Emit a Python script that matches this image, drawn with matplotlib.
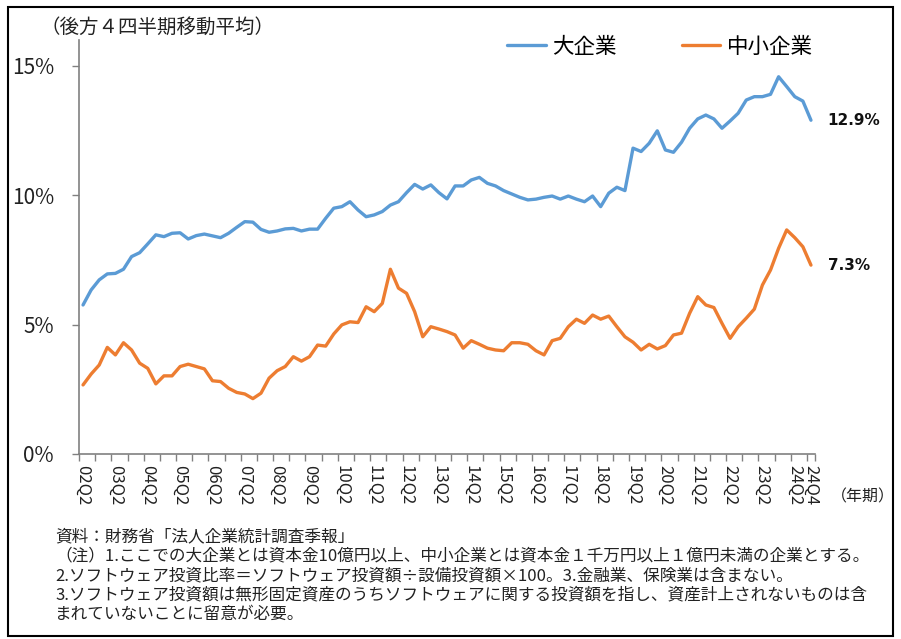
import matplotlib
matplotlib.use('agg')
from matplotlib import pyplot as plt
from matplotlib.patches import Rectangle

plt.rcParams['font.family'] = ['Noto Sans CJK JP', 'DejaVu Sans']

# 四半期 (2002Q2 ～ 2024Q4)
quarters = []
for _year in range(2002, 2025):
    for _q in range(1, 5):
        if _year == 2002 and _q < 2:
            continue
        quarters.append('%02dQ%d' % (_year % 100, _q))

# ソフトウェア投資比率 (%)
large = [5.76, 6.34, 6.73, 6.96, 6.98, 7.14, 7.63, 7.78, 8.12, 8.47,
         8.40, 8.53, 8.55, 8.31, 8.44, 8.50, 8.43, 8.36, 8.53, 8.76,
         8.98, 8.96, 8.68, 8.57, 8.62, 8.70, 8.72, 8.62, 8.69, 8.69,
         9.11, 9.50, 9.56, 9.75, 9.43, 9.17, 9.24, 9.37, 9.62, 9.75,
         10.10, 10.42, 10.24, 10.40, 10.10, 9.86, 10.36, 10.36, 10.59, 10.69,
         10.46, 10.36, 10.18, 10.05, 9.92, 9.82, 9.85, 9.92, 9.97, 9.85,
         9.97, 9.85, 9.75, 9.97, 9.56, 10.08, 10.31, 10.18, 11.82, 11.69,
         12.01, 12.49, 11.75, 11.66, 12.05, 12.59, 12.95, 13.10, 12.95, 12.59,
         12.87, 13.17, 13.68, 13.81, 13.81, 13.90, 14.58, 14.20, 13.81, 13.64,
         12.9]
small = [2.67, 3.09, 3.44, 4.12, 3.83, 4.30, 4.02, 3.51, 3.31, 2.71,
         3.02, 3.02, 3.38, 3.47, 3.38, 3.29, 2.83, 2.80, 2.54, 2.38,
         2.32, 2.14, 2.35, 2.93, 3.22, 3.38, 3.76, 3.59, 3.76, 4.21,
         4.17, 4.64, 4.99, 5.11, 5.08, 5.69, 5.50, 5.82, 7.14, 6.41,
         6.21, 5.50, 4.53, 4.92, 4.83, 4.73, 4.60, 4.09, 4.38, 4.24,
         4.09, 4.02, 3.99, 4.30, 4.30, 4.24, 3.99, 3.83, 4.38, 4.47,
         4.92, 5.21, 5.05, 5.37, 5.21, 5.33, 4.92, 4.53, 4.32, 4.02,
         4.24, 4.06, 4.19, 4.60, 4.67, 5.44, 6.08, 5.76, 5.66, 5.05,
         4.47, 4.92, 5.25, 5.60, 6.53, 7.11, 7.95, 8.66, 8.36, 8.01,
         7.3]

series_names = ['大企業', '中小企業']
series_colors = ['#5B9BD5', '#ED7D31']
end_labels = ['12.9%', '7.3%']

y_ticks = [0, 5, 10, 15]
y_tick_labels = ['0%', '5%', '10%', '15%']

notes = [
    '資料：財務省「法人企業統計調査季報」',
    '（注）1.ここでの大企業とは資本金10億円以上、中小企業とは資本金１千万円以上１億円未満の企業とする。',
    '2.ソフトウェア投資比率＝ソフトウェア投資額÷設備投資額×100。3.金融業、保険業は含まない。',
    '3.ソフトウェア投資額は無形固定資産のうちソフトウェアに関する投資額を指し、資産計上されないものは含',
    'まれていないことに留意が必要。',
]

W, H = 901, 639


def fx(px):
    return px / W


def fy(py):
    return 1 - py / H


fig = plt.figure(figsize=(W / 100, H / 100), dpi=100)
ax = fig.add_axes([fx(79), fy(454), fx(815) - fx(79), fy(40) - fy(454)])

_x = list(range(len(quarters)))
_lines = []
for _vals, _name, _color in zip([large, small], series_names, series_colors):
    _ln, = ax.plot(_x, _vals, color=_color, linewidth=2.4, label=_name,
                   solid_joinstyle='round', solid_capstyle='round')
    _lines.append(_ln)

# 最終値ラベル
for _vals, _text in zip([large, small], end_labels):
    ax.annotate(_text, xy=(_x[-1], _vals[-1]), xytext=(12, 0),
                textcoords='offset points', ha='left', va='center',
                fontsize=11, fontweight='bold', family='DejaVu Sans',
                color='#111111', annotation_clip=False)

ax.set_xlim(-0.5, len(quarters) - 0.5)
ax.set_ylim(0, 16)

# 目盛り
_label_pos = _x[::4] + [_x[-1]]
_labels = [quarters[i] for i in _label_pos]
ax.set_xticks(_label_pos, _labels, rotation=-90)
ax.set_xticks([i - 0.5 for i in range(0, len(quarters) + 1, 2)] + [len(quarters) - 0.5], minor=True)
ax.tick_params(axis='x', which='major', length=0, pad=8, labelsize=12, labelcolor='#222222')
ax.tick_params(axis='x', which='minor', length=5, width=1, color='#808080', direction='out')

ax.set_yticks(y_ticks, y_tick_labels)
ax.tick_params(axis='y', length=5, width=1, color='#808080', pad=13, labelsize=15, labelcolor='#222222')

for _side in ['top', 'right']:
    ax.spines[_side].set_visible(False)
for _side in ['left', 'bottom']:
    ax.spines[_side].set_color('#808080')
    ax.spines[_side].set_linewidth(1.2)

ax.legend(handles=_lines, loc='center', bbox_to_anchor=(fx(660), fy(47)),
          bbox_transform=fig.transFigure, ncol=2, frameon=False, fontsize=15.5,
          handlelength=1.8, handletextpad=0.3, columnspacing=3.0)

fig.text(fx(157), fy(27), '（後方４四半期移動平均）', ha='center', va='center',
         fontsize=14, color='#222222')
fig.text(fx(863), fy(497), '（年期）', ha='center', va='center',
         fontsize=11.5, color='#222222')

_note_y = [537, 556, 576, 595, 614]
for _txt, _py in zip(notes, _note_y):
    fig.text(fx(55), fy(_py), _txt, ha='left', va='center', fontsize=12, color='#222222')

# 外枠
fig.patches.append(Rectangle((fx(8), fy(636)), fx(893) - fx(8), fy(7) - fy(636),
                             transform=fig.transFigure, fill=False,
                             edgecolor='black', linewidth=1.5))

fig.savefig('out.png', dpi=100)
